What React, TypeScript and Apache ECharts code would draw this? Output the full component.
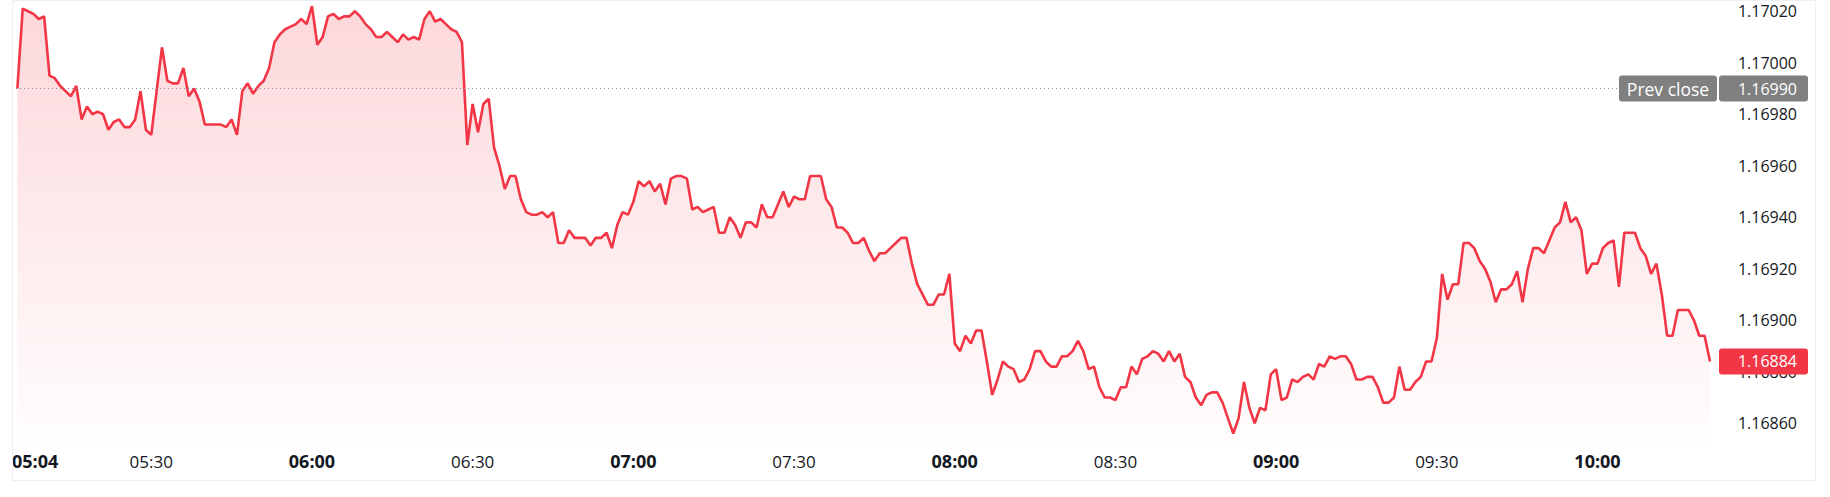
import React, { useEffect, useRef } from "react";
import * as echarts from "echarts";

const times: string[] = [
  "05:05","05:06","05:07","05:08","05:09","05:10","05:11","05:12","05:13","05:14",
  "05:15","05:16","05:17","05:18","05:19","05:20","05:21","05:22","05:23","05:24",
  "05:25","05:26","05:27","05:28","05:29","05:30","05:32","05:33","05:34","05:35",
  "05:36","05:37","05:38","05:39","05:40","05:41","05:42","05:43","05:44","05:45",
  "05:46","05:47","05:48","05:49","05:50","05:51","05:52","05:53","05:54","05:55",
  "05:56","05:57","05:58","05:59","06:00","06:01","06:02","06:03","06:04","06:05",
  "06:06","06:07","06:08","06:09","06:10","06:11","06:12","06:13","06:14","06:15",
  "06:16","06:17","06:18","06:19","06:20","06:21","06:22","06:23","06:24","06:25",
  "06:26","06:27","06:28","06:29","06:30","06:31","06:32","06:33","06:34","06:35",
  "06:36","06:37","06:38","06:39","06:40","06:41","06:42","06:43","06:44","06:45",
  "06:46","06:47","06:48","06:49","06:50","06:51","06:52","06:53","06:54","06:55",
  "06:56","06:57","06:58","06:59","07:00","07:01","07:02","07:03","07:04","07:05",
  "07:06","07:07","07:08","07:09","07:10","07:11","07:12","07:13","07:14","07:15",
  "07:16","07:17","07:18","07:19","07:20","07:21","07:22","07:23","07:24","07:25",
  "07:26","07:27","07:28","07:29","07:30","07:31","07:32","07:33","07:34","07:35",
  "07:36","07:37","07:38","07:39","07:40","07:41","07:42","07:43","07:44","07:45",
  "07:46","07:47","07:48","07:49","07:50","07:51","07:52","07:53","07:54","07:55",
  "07:56","07:57","07:58","07:59","08:00","08:01","08:02","08:03","08:04","08:05",
  "08:06","08:07","08:08","08:09","08:10","08:11","08:12","08:13","08:14","08:15",
  "08:16","08:17","08:18","08:19","08:20","08:21","08:22","08:23","08:24","08:25",
  "08:26","08:27","08:28","08:29","08:30","08:31","08:32","08:33","08:34","08:35",
  "08:36","08:37","08:38","08:39","08:40","08:41","08:42","08:43","08:44","08:45",
  "08:46","08:47","08:48","08:49","08:50","08:51","08:52","08:53","08:54","08:55",
  "08:56","08:57","08:58","08:59","09:00","09:01","09:02","09:03","09:04","09:05",
  "09:06","09:07","09:08","09:09","09:10","09:11","09:12","09:13","09:14","09:15",
  "09:16","09:17","09:18","09:19","09:20","09:21","09:22","09:23","09:24","09:25",
  "09:26","09:27","09:28","09:29","09:30","09:31","09:32","09:33","09:34","09:35",
  "09:36","09:37","09:38","09:39","09:40","09:41","09:42","09:43","09:44","09:45",
  "09:46","09:47","09:48","09:49","09:50","09:51","09:52","09:53","09:54","09:55",
  "09:56","09:57","09:58","09:59","10:00","10:01","10:02","10:03","10:04","10:05",
  "10:06","10:07","10:08","10:09","10:10","10:11","10:12","10:13","10:14","10:15",
  "10:16","10:17","10:18","10:19","10:20","10:21",
];

const prices: number[] = [
  1.16990,1.17021,1.17020,1.17019,1.17017,1.17018,1.16995,1.16994,1.16991,1.16989,
  1.16987,1.16991,1.16978,1.16983,1.16980,1.16981,1.16980,1.16974,1.16977,1.16978,
  1.16975,1.16975,1.16978,1.16989,1.16974,1.16972,1.17006,1.16993,1.16992,1.16992,
  1.16998,1.16987,1.16990,1.16985,1.16976,1.16976,1.16976,1.16976,1.16975,1.16978,
  1.16972,1.16989,1.16992,1.16988,1.16991,1.16993,1.16998,1.17008,1.17011,1.17013,
  1.17014,1.17015,1.17017,1.17015,1.17022,1.17007,1.17010,1.17018,1.17019,1.17017,
  1.17018,1.17018,1.17020,1.17018,1.17015,1.17013,1.17010,1.17010,1.17012,1.17010,
  1.17008,1.17011,1.17009,1.17010,1.17009,1.17017,1.17020,1.17016,1.17017,1.17015,
  1.17013,1.17012,1.17008,1.16968,1.16984,1.16973,1.16984,1.16986,1.16967,1.16960,
  1.16951,1.16956,1.16956,1.16947,1.16942,1.16941,1.16941,1.16942,1.16940,1.16942,
  1.16930,1.16930,1.16935,1.16932,1.16932,1.16932,1.16929,1.16932,1.16932,1.16934,
  1.16928,1.16937,1.16942,1.16941,1.16946,1.16954,1.16952,1.16954,1.16950,1.16953,
  1.16945,1.16955,1.16956,1.16956,1.16955,1.16943,1.16944,1.16942,1.16943,1.16944,
  1.16934,1.16934,1.16940,1.16937,1.16932,1.16938,1.16938,1.16936,1.16945,1.16940,
  1.16940,1.16945,1.16950,1.16944,1.16948,1.16947,1.16947,1.16956,1.16956,1.16956,
  1.16947,1.16944,1.16936,1.16936,1.16934,1.16930,1.16930,1.16932,1.16927,1.16923,
  1.16926,1.16926,1.16928,1.16930,1.16932,1.16932,1.16922,1.16914,1.16910,1.16906,
  1.16906,1.16910,1.16910,1.16918,1.16891,1.16888,1.16894,1.16891,1.16896,1.16896,
  1.16884,1.16871,1.16877,1.16884,1.16882,1.16881,1.16876,1.16877,1.16881,1.16888,
  1.16888,1.16884,1.16882,1.16882,1.16886,1.16886,1.16888,1.16892,1.16888,1.16881,
  1.16882,1.16874,1.16870,1.16870,1.16869,1.16874,1.16874,1.16882,1.16879,1.16885,
  1.16886,1.16888,1.16887,1.16884,1.16888,1.16884,1.16887,1.16878,1.16876,1.16870,
  1.16867,1.16871,1.16872,1.16872,1.16868,1.16862,1.16856,1.16862,1.16876,1.16866,
  1.16860,1.16866,1.16865,1.16879,1.16881,1.16869,1.16870,1.16877,1.16876,1.16878,
  1.16879,1.16877,1.16883,1.16882,1.16886,1.16885,1.16886,1.16886,1.16883,1.16877,
  1.16877,1.16878,1.16878,1.16874,1.16868,1.16868,1.16870,1.16882,1.16873,1.16873,
  1.16876,1.16878,1.16884,1.16884,1.16893,1.16918,1.16908,1.16914,1.16914,1.16930,
  1.16930,1.16928,1.16923,1.16920,1.16915,1.16907,1.16912,1.16912,1.16914,1.16919,
  1.16907,1.16920,1.16928,1.16928,1.16926,1.16931,1.16936,1.16938,1.16946,1.16938,
  1.16940,1.16935,1.16918,1.16922,1.16922,1.16928,1.16930,1.16931,1.16913,1.16934,
  1.16934,1.16934,1.16928,1.16925,1.16918,1.16922,1.16910,1.16894,1.16894,1.16904,
  1.16904,1.16904,1.16900,1.16894,1.16894,1.16884,
];

const xTickLabels: string[] = [
  "05:04","05:30","06:00","06:30","07:00","07:30","08:00","08:30","09:00","09:30","10:00",
];
const yTickValues: number[] = [
  1.16860, 1.16880, 1.16900, 1.16920, 1.16940, 1.16960, 1.16980, 1.17000, 1.17020,
];
const axisStart = "05:04";
const axisEnd = "10:21";
const yMin = 1.1685;
const yMax = 1.1702437;
const prevClose = 1.1699;
const prevCloseLabel = "Prev close";
const lastPrice = prices[prices.length - 1];

const RED = "#F23645";
const FONT = '"Open Sans", "Noto Sans", sans-serif';

const toMin = (t: string) => {
  const [h, m] = t.split(":").map(Number);
  return h * 60 + m;
};
const startMin = toMin(axisStart);
const fmtMin = (v: number) => {
  const total = startMin + Math.round(v);
  const h = Math.floor(total / 60);
  const m = total % 60;
  return `${String(h).padStart(2, "0")}:${String(m).padStart(2, "0")}`;
};

export default function App() {
  const ref = useRef<HTMLDivElement>(null);

  useEffect(() => {
    if (!ref.current) return;
    const chart = echarts.init(ref.current, undefined, { renderer: "svg" });
    const data = times.map((t, i) => [toMin(t) - startMin, prices[i]]);
    const xMax = toMin(axisEnd) - startMin;

    chart.setOption({
      animation: false,
      backgroundColor: "#ffffff",
      textStyle: { fontFamily: FONT },
      grid: { left: 12, right: 120, top: 0, bottom: 48 },
      xAxis: {
        type: "value",
        min: 0,
        max: xMax,
        axisLine: { show: false },
        axisTick: { show: false },
        splitLine: { show: false },
        axisLabel: {
          customValues: xTickLabels.map((t) => toMin(t) - startMin),
          margin: 2,
          alignMinLabel: "left",
          formatter: (v: number) => {
            const s = fmtMin(v);
            const bold = v === 0 || s.endsWith(":00");
            return bold ? `{b|${s}}` : `{n|${s}}`;
          },
          rich: {
            b: { fontFamily: FONT, fontSize: 18, fontWeight: "bold", color: "#131722", lineHeight: 20 },
            n: { fontFamily: FONT, fontSize: 17, color: "#131722", lineHeight: 20 },
          },
        },
      },
      yAxis: {
        type: "value",
        position: "right",
        min: yMin,
        max: yMax,
        axisLine: { show: false },
        axisTick: { show: false },
        splitLine: { show: false },
        axisLabel: {
          customValues: yTickValues,
          align: "right",
          margin: 87,
          fontFamily: FONT,
          fontSize: 16,
          color: "#131722",
          formatter: (v: number) => v.toFixed(5),
        },
      },
      series: [
        {
          type: "line",
          data,
          symbol: "none",
          lineStyle: { color: RED, width: 2.6 },
          itemStyle: { color: RED },
          areaStyle: {
            color: new echarts.graphic.LinearGradient(0, 0, 0, 1, [
              { offset: 0, color: "rgba(242,54,69,0.28)" },
              { offset: 1, color: "rgba(242,54,69,0.01)" },
            ]),
          },
          markLine: {
            silent: true,
            symbol: "none",
            precision: 5,
            label: { show: false },
            lineStyle: { color: "#8a8d96", width: 1, type: [1, 3] },
            data: [{ yAxis: prevClose }],
          },
        },
      ],
    });

    const xEnd = chart.convertToPixel({ xAxisIndex: 0 }, xMax) as number;
    const yPrev = chart.convertToPixel({ yAxisIndex: 0 }, prevClose) as number;
    const yLast = chart.convertToPixel({ yAxisIndex: 0 }, lastPrice) as number;
    const boxH = 26;

    chart.setOption({
      graphic: [
        {
          type: "rect",
          z: 50,
          silent: true,
          shape: { x: 12.5, y: 0.5, width: 1803, height: 480 },
          style: { fill: "none", stroke: "#eeeff2", lineWidth: 1 },
        },
        {
          type: "rect",
          z: 100,
          shape: { x: xEnd - 91, y: yPrev - boxH / 2, width: 98, height: boxH, r: 3 },
          style: { fill: "#808080" },
        },
        {
          type: "text",
          z: 101,
          x: xEnd - 42,
          y: yPrev,
          style: {
            text: prevCloseLabel,
            fill: "#ffffff",
            font: `17.5px ${FONT}`,
            align: "center",
            verticalAlign: "middle",
            textAlign: "center",
            textVerticalAlign: "middle",
          },
        },
        {
          type: "rect",
          z: 100,
          shape: { x: xEnd + 9, y: yPrev - boxH / 2, width: 89, height: boxH, r: 3 },
          style: { fill: "#808080" },
        },
        {
          type: "text",
          z: 101,
          x: xEnd + 87,
          y: yPrev,
          style: {
            text: prevClose.toFixed(5),
            fill: "#ffffff",
            font: `16px ${FONT}`,
            align: "right",
            verticalAlign: "middle",
            textAlign: "right",
            textVerticalAlign: "middle",
          },
        },
        {
          type: "rect",
          z: 100,
          shape: { x: xEnd + 9, y: yLast - boxH / 2, width: 89, height: boxH, r: 3 },
          style: { fill: RED },
        },
        {
          type: "text",
          z: 101,
          x: xEnd + 87,
          y: yLast,
          style: {
            text: lastPrice.toFixed(5),
            fill: "#ffffff",
            font: `16px ${FONT}`,
            align: "right",
            verticalAlign: "middle",
            textAlign: "right",
            textVerticalAlign: "middle",
          },
        },
      ],
    });

    return () => chart.dispose();
  }, []);

  return (
    <div
      ref={ref}
      style={{ position: "absolute", left: 0, top: 0, width: 1830, height: 497 }}
    />
  );
}
